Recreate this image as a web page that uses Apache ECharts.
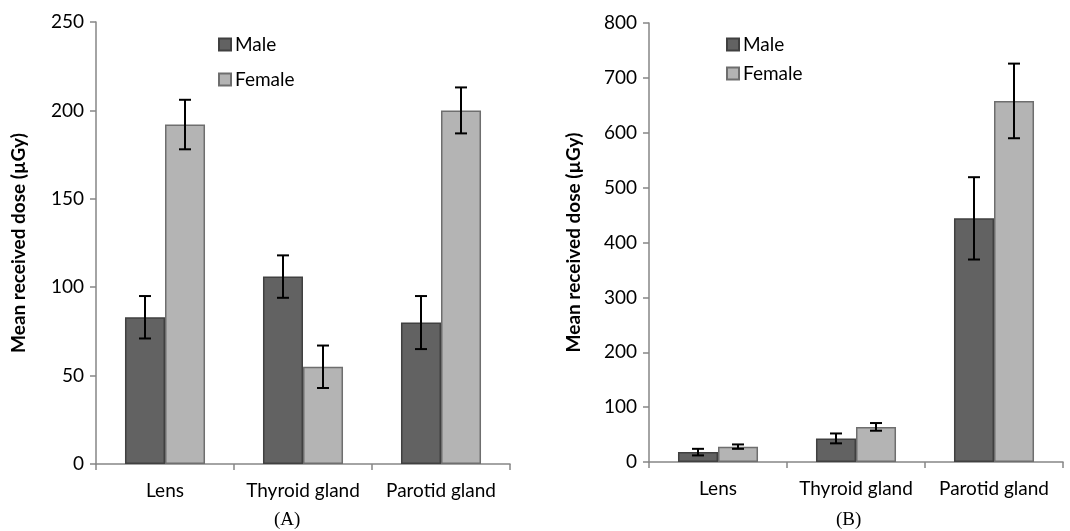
<!DOCTYPE html>
<html>
<head>
<meta charset="utf-8">
<script src="https://cdn.jsdelivr.net/npm/echarts@6/dist/echarts.min.js"></script>
<style>
  html, body { margin: 0; padding: 0; background: #fff; }
  #chart { width: 1070px; height: 531px; }
</style>
</head>
<body>
<div id="chart"></div>
<script>
// categories shared by both panels
const organs = ['Lens', 'Thyroid gland', 'Parotid gland']

// panel (A)
const maleA = [83, 106, 80]
const maleErrA = [12, 12, 15]
const femaleA = [192, 55, 200]
const femaleErrA = [14, 12, 13]

// panel (B)
const maleB = [18, 43, 444]
const maleErrB = [6, 9, 75]
const femaleB = [28, 64, 658]
const femaleErrB = [4, 7, 68]

const font = 'Lato, "Open Sans", sans-serif'
const axisGrey = '#868686'
const maleFill = '#626262'
const femaleFill = '#b4b4b4'

const chart = echarts.init(document.getElementById('chart'))

// error bar drawn at the centre of one of the two bars in a category
function errorBars(sign) {
  return function (params, api) {
    const idx = api.value(0)
    const mean = api.value(1)
    const err = api.value(2)
    const w = api.size([1, 0])[0]
    const cx = api.coord([idx, mean])[0] + sign * w * 0.145
    const top = api.coord([idx, mean + err])[1]
    const bot = api.coord([idx, mean - err])[1]
    const cap = 6
    const style = { stroke: '#000', lineWidth: 2 }
    return {
      type: 'group',
      children: [
        { type: 'line', shape: { x1: cx, y1: top, x2: cx, y2: bot }, style },
        { type: 'line', shape: { x1: cx - cap, y1: top, x2: cx + cap, y2: top }, style },
        { type: 'line', shape: { x1: cx - cap, y1: bot, x2: cx + cap, y2: bot }, style }
      ]
    }
  }
}

function errData(means, errs) {
  return means.map((m, i) => [i, m, errs[i]])
}

function xAxis(gridIndex) {
  return {
    type: 'category',
    gridIndex,
    data: organs,
    axisLine: { lineStyle: { color: axisGrey, width: 1.5 } },
    axisTick: { show: true, length: 6, lineStyle: { color: axisGrey, width: 1.5 } },
    axisLabel: { color: '#000', fontFamily: font, fontSize: 19, margin: 17, interval: 0, hideOverlap: false }
  }
}

function yAxis(gridIndex, max, interval, nameGap) {
  return {
    type: 'value',
    gridIndex,
    min: 0,
    max,
    interval,
    name: 'Mean received dose (µGy)',
    nameLocation: 'middle',
    nameGap,
    nameTextStyle: { color: '#000', fontFamily: font, fontSize: 19, fontWeight: 'bold' },
    axisLine: { show: true, lineStyle: { color: axisGrey, width: 1.5 } },
    axisTick: { show: true, length: 6, lineStyle: { color: axisGrey, width: 1.5 } },
    axisLabel: { color: '#000', fontFamily: font, fontSize: 19, margin: 12 },
    splitLine: { show: false }
  }
}

function bar(name, values, idx, fill, border) {
  return {
    name,
    type: 'bar',
    xAxisIndex: idx,
    yAxisIndex: idx,
    data: values,
    barGap: '0%',
    barCategoryGap: '42%',
    itemStyle: { color: fill, borderColor: border, borderWidth: 1.5 }
  }
}

function errSeries(means, errs, idx, sign) {
  return {
    type: 'custom',
    xAxisIndex: idx,
    yAxisIndex: idx,
    renderItem: errorBars(sign),
    data: errData(means, errs),
    z: 10,
    silent: true
  }
}

const legendBase = {
  orient: 'vertical',
  icon: 'rect',
  itemWidth: 12,
  itemHeight: 12,
  itemGap: 16,
  textStyle: { color: '#000', fontFamily: font, fontSize: 19, padding: [0, 0, 0, -1] },
  data: ['Male', 'Female']
}

const captionStyle = { fontFamily: '"Liberation Serif", serif', fontSize: 19, fontWeight: 'normal', color: '#000' }

chart.setOption({
  animation: false,
  grid: [
    { left: 96, top: 22, width: 414, height: 442 },
    { left: 649, top: 23, width: 414, height: 439 }
  ],
  legend: [
    Object.assign({}, legendBase, { left: 213, top: 30 }),
    Object.assign({}, legendBase, { left: 721, top: 30, itemGap: 10 })
  ],
  title: [
    { text: '(A)', left: 269, top: 506, textStyle: captionStyle },
    { text: '(B)', left: 831, top: 506, textStyle: captionStyle }
  ],
  xAxis: [xAxis(0), xAxis(1)],
  yAxis: [yAxis(0, 250, 50, 68), yAxis(1, 800, 100, 66)],
  series: [
    bar('Male', maleA, 0, maleFill, '#404040'),
    bar('Female', femaleA, 0, femaleFill, '#6e6e6e'),
    errSeries(maleA, maleErrA, 0, -1),
    errSeries(femaleA, femaleErrA, 0, 1),
    bar('Male', maleB, 1, maleFill, '#404040'),
    bar('Female', femaleB, 1, femaleFill, '#6e6e6e'),
    errSeries(maleB, maleErrB, 1, -1),
    errSeries(femaleB, femaleErrB, 1, 1)
  ]
})
</script>
</body>
</html>
